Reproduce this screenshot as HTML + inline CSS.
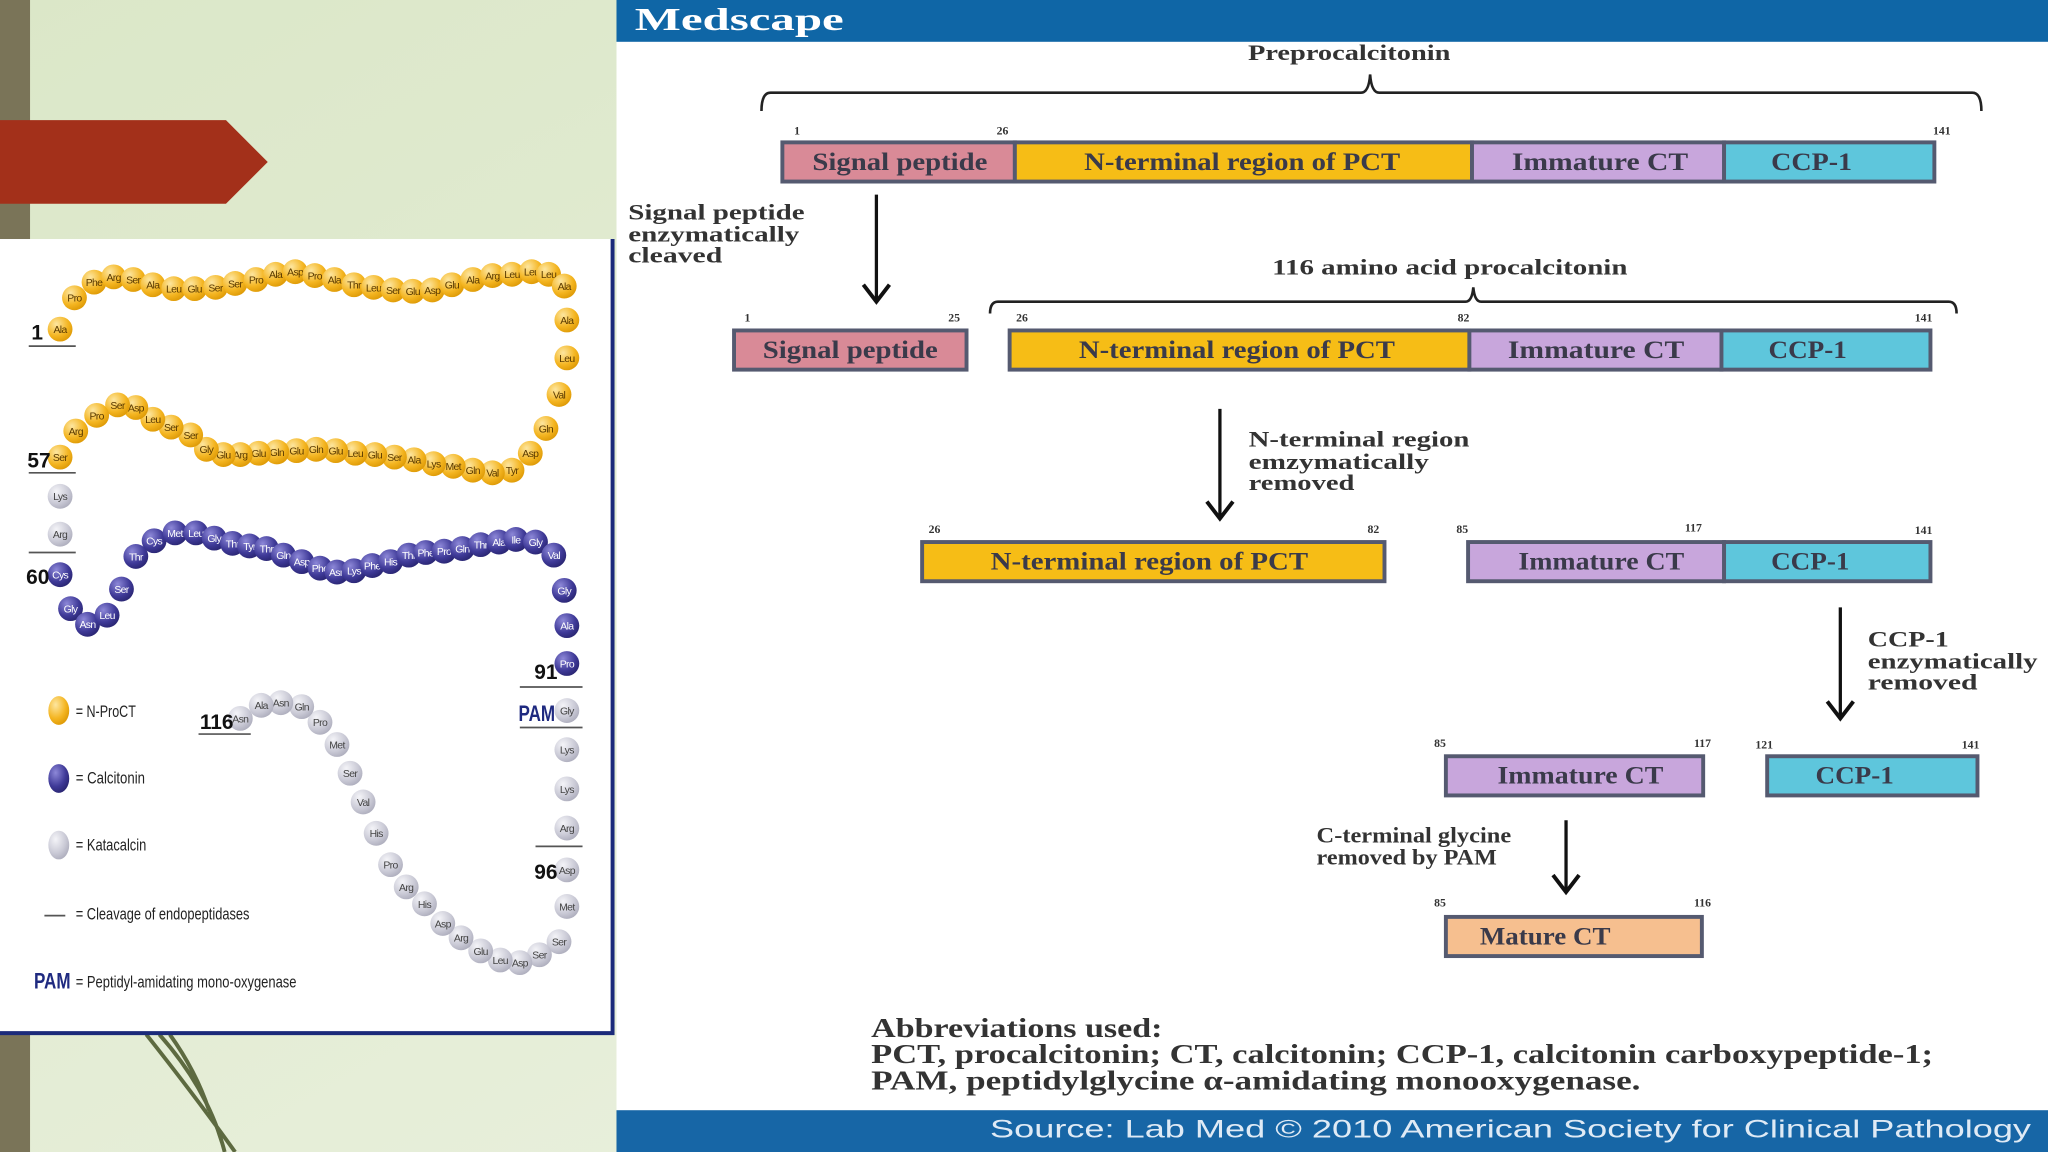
<!DOCTYPE html>
<html><head><meta charset="utf-8"><style>
html,body{margin:0;padding:0;width:2048px;height:1152px;overflow:hidden;background:#e6eed8}
svg{display:block}
.bx{font-family:"Liberation Serif",serif;font-weight:bold;font-size:19px;fill:#3a3a4a;text-anchor:middle}
.n{font-family:"Liberation Serif",serif;font-weight:bold;font-size:9px;fill:#333}
.lb{font-family:"Liberation Serif",serif;font-weight:bold;font-size:17px;fill:#333}
.ab{font-family:"Liberation Serif",serif;font-weight:bold;font-size:21px;fill:#333}
.b text{font-family:"Liberation Sans",sans-serif;font-size:8px;text-anchor:middle;letter-spacing:-0.5px}
.y circle{fill:url(#gy)} .y text{fill:#5a3a00}
.u circle{fill:url(#gu)} .u text{fill:#fff}
.g circle{fill:url(#gg)} .g text{fill:#444}
.lg{font-family:"Liberation Sans",sans-serif;font-size:13px;fill:#222}
.nm{font-family:"Liberation Sans",sans-serif;font-weight:bold;font-size:16px;fill:#111}
.ah{fill:none;stroke:#111;stroke-width:3}
</style></head><body>
<svg width="2048" height="1152" viewBox="0 0 1568 882" xmlns="http://www.w3.org/2000/svg">
<defs>
<linearGradient id="bg" x1="0" y1="0" x2="1" y2="1"><stop offset="0" stop-color="#dbe7c8"/><stop offset="1" stop-color="#eef3e4"/></linearGradient>
<radialGradient id="gy" cx="0.35" cy="0.3" r="0.8"><stop offset="0" stop-color="#fde6a0"/><stop offset="0.6" stop-color="#f4b521"/><stop offset="1" stop-color="#d99400"/></radialGradient>
<radialGradient id="gu" cx="0.35" cy="0.3" r="0.8"><stop offset="0" stop-color="#8d88d8"/><stop offset="0.6" stop-color="#3f3a98"/><stop offset="1" stop-color="#25216a"/></radialGradient>
<radialGradient id="gg" cx="0.35" cy="0.3" r="0.8"><stop offset="0" stop-color="#f4f4f8"/><stop offset="0.6" stop-color="#cacad6"/><stop offset="1" stop-color="#a8a8b8"/></radialGradient>
</defs>
<rect width="1568" height="882" fill="url(#bg)"/>
<rect x="0" y="0" width="23" height="882" fill="#7a7458"/>
<path d="M0 92 L173 92 L205 124 L173 156 L0 156 Z" fill="#a3301a"/>
<path d="M112 792 Q150 840 180 882 M122 792 Q160 835 172 882 M130 792 Q150 820 160 850" stroke="#5d6a40" stroke-width="3" fill="none"/>
<!-- left panel -->
<rect x="0" y="183" width="470" height="608" fill="#fff"/>
<path d="M469 183 V791 H0" fill="none" stroke="#1b2a7a" stroke-width="3"/>
<g class="b y">
<circle cx="46" cy="252" r="9.5"/><text x="46" y="255">Ala</text>
<circle cx="57" cy="228" r="9.5"/><text x="57" y="231">Pro</text>
<circle cx="72" cy="216" r="9.5"/><text x="72" y="219">Phe</text>
<circle cx="87" cy="212" r="9.5"/><text x="87" y="215">Arg</text>
<circle cx="102" cy="214" r="9.5"/><text x="102" y="217">Ser</text>
<circle cx="117" cy="218" r="9.5"/><text x="117" y="221">Ala</text>
<circle cx="133" cy="221" r="9.5"/><text x="133" y="224">Leu</text>
<circle cx="149" cy="221" r="9.5"/><text x="149" y="224">Glu</text>
<circle cx="165" cy="220" r="9.5"/><text x="165" y="223">Ser</text>
<circle cx="180" cy="217" r="9.5"/><text x="180" y="220">Ser</text>
<circle cx="196" cy="214" r="9.5"/><text x="196" y="217">Pro</text>
<circle cx="211" cy="210" r="9.5"/><text x="211" y="213">Ala</text>
<circle cx="226" cy="208" r="9.5"/><text x="226" y="211">Asp</text>
<circle cx="241" cy="211" r="9.5"/><text x="241" y="214">Pro</text>
<circle cx="256" cy="214" r="9.5"/><text x="256" y="217">Ala</text>
<circle cx="271" cy="218" r="9.5"/><text x="271" y="221">Thr</text>
<circle cx="286" cy="220" r="9.5"/><text x="286" y="223">Leu</text>
<circle cx="301" cy="222" r="9.5"/><text x="301" y="225">Ser</text>
<circle cx="316" cy="223" r="9.5"/><text x="316" y="226">Glu</text>
<circle cx="331" cy="222" r="9.5"/><text x="331" y="225">Asp</text>
<circle cx="346" cy="218" r="9.5"/><text x="346" y="221">Glu</text>
<circle cx="362" cy="214" r="9.5"/><text x="362" y="217">Ala</text>
<circle cx="377" cy="211" r="9.5"/><text x="377" y="214">Arg</text>
<circle cx="392" cy="210" r="9.5"/><text x="392" y="213">Leu</text>
<circle cx="407" cy="208" r="9.5"/><text x="407" y="211">Leu</text>
<circle cx="420" cy="210" r="9.5"/><text x="420" y="213">Leu</text>
<circle cx="432" cy="219" r="9.5"/><text x="432" y="222">Ala</text>
<circle cx="434" cy="245" r="9.5"/><text x="434" y="248">Ala</text>
<circle cx="434" cy="274" r="9.5"/><text x="434" y="277">Leu</text>
<circle cx="428" cy="302" r="9.5"/><text x="428" y="305">Val</text>
<circle cx="418" cy="328" r="9.5"/><text x="418" y="331">Gln</text>
<circle cx="406" cy="347" r="9.5"/><text x="406" y="350">Asp</text>
<circle cx="392" cy="360" r="9.5"/><text x="392" y="363">Tyr</text>
<circle cx="377" cy="362" r="9.5"/><text x="377" y="365">Val</text>
<circle cx="362" cy="360" r="9.5"/><text x="362" y="363">Gln</text>
<circle cx="347" cy="357" r="9.5"/><text x="347" y="360">Met</text>
<circle cx="332" cy="355" r="9.5"/><text x="332" y="358">Lys</text>
<circle cx="317" cy="352" r="9.5"/><text x="317" y="355">Ala</text>
<circle cx="302" cy="350" r="9.5"/><text x="302" y="353">Ser</text>
<circle cx="287" cy="348" r="9.5"/><text x="287" y="351">Glu</text>
<circle cx="272" cy="347" r="9.5"/><text x="272" y="350">Leu</text>
<circle cx="257" cy="345" r="9.5"/><text x="257" y="348">Glu</text>
<circle cx="242" cy="344" r="9.5"/><text x="242" y="347">Gln</text>
<circle cx="227" cy="345" r="9.5"/><text x="227" y="348">Glu</text>
<circle cx="212" cy="346" r="9.5"/><text x="212" y="349">Gln</text>
<circle cx="198" cy="347" r="9.5"/><text x="198" y="350">Glu</text>
<circle cx="184" cy="348" r="9.5"/><text x="184" y="351">Arg</text>
<circle cx="171" cy="348" r="9.5"/><text x="171" y="351">Glu</text>
<circle cx="158" cy="344" r="9.5"/><text x="158" y="347">Gly</text>
<circle cx="146" cy="333" r="9.5"/><text x="146" y="336">Ser</text>
<circle cx="131" cy="327" r="9.5"/><text x="131" y="330">Ser</text>
<circle cx="117" cy="321" r="9.5"/><text x="117" y="324">Leu</text>
<circle cx="104" cy="312" r="9.5"/><text x="104" y="315">Asp</text>
<circle cx="90" cy="310" r="9.5"/><text x="90" y="313">Ser</text>
<circle cx="74" cy="318" r="9.5"/><text x="74" y="321">Pro</text>
<circle cx="58" cy="330" r="9.5"/><text x="58" y="333">Arg</text>
<circle cx="46" cy="350" r="9.5"/><text x="46" y="353">Ser</text>
</g>
<g class="b g">
<circle cx="46" cy="380" r="9.5"/><text x="46" y="383">Lys</text>
<circle cx="46" cy="409" r="9.5"/><text x="46" y="412">Arg</text>
</g>
<g class="b u">
<circle cx="46" cy="440" r="9.5"/><text x="46" y="443">Cys</text>
<circle cx="54" cy="466" r="9.5"/><text x="54" y="469">Gly</text>
<circle cx="67" cy="478" r="9.5"/><text x="67" y="481">Asn</text>
<circle cx="82" cy="471" r="9.5"/><text x="82" y="474">Leu</text>
<circle cx="93" cy="451" r="9.5"/><text x="93" y="454">Ser</text>
<circle cx="104" cy="426" r="9.5"/><text x="104" y="429">Thr</text>
<circle cx="118" cy="414" r="9.5"/><text x="118" y="417">Cys</text>
<circle cx="134" cy="408" r="9.5"/><text x="134" y="411">Met</text>
<circle cx="150" cy="408" r="9.5"/><text x="150" y="411">Leu</text>
<circle cx="164" cy="412" r="9.5"/><text x="164" y="415">Gly</text>
<circle cx="178" cy="416" r="9.5"/><text x="178" y="419">Thr</text>
<circle cx="191" cy="418" r="9.5"/><text x="191" y="421">Tyr</text>
<circle cx="204" cy="420" r="9.5"/><text x="204" y="423">Thr</text>
<circle cx="217" cy="425" r="9.5"/><text x="217" y="428">Gln</text>
<circle cx="231" cy="430" r="9.5"/><text x="231" y="433">Asp</text>
<circle cx="245" cy="435" r="9.5"/><text x="245" y="438">Phe</text>
<circle cx="258" cy="438" r="9.5"/><text x="258" y="441">Asn</text>
<circle cx="271" cy="437" r="9.5"/><text x="271" y="440">Lys</text>
<circle cx="285" cy="433" r="9.5"/><text x="285" y="436">Phe</text>
<circle cx="299" cy="430" r="9.5"/><text x="299" y="433">His</text>
<circle cx="313" cy="425" r="9.5"/><text x="313" y="428">Thr</text>
<circle cx="326" cy="423" r="9.5"/><text x="326" y="426">Phe</text>
<circle cx="340" cy="422" r="9.5"/><text x="340" y="425">Pro</text>
<circle cx="354" cy="420" r="9.5"/><text x="354" y="423">Gln</text>
<circle cx="368" cy="417" r="9.5"/><text x="368" y="420">Thr</text>
<circle cx="382" cy="415" r="9.5"/><text x="382" y="418">Ala</text>
<circle cx="395" cy="413" r="9.5"/><text x="395" y="416">Ile</text>
<circle cx="410" cy="415" r="9.5"/><text x="410" y="418">Gly</text>
<circle cx="424" cy="425" r="9.5"/><text x="424" y="428">Val</text>
<circle cx="432" cy="452" r="9.5"/><text x="432" y="455">Gly</text>
<circle cx="434" cy="479" r="9.5"/><text x="434" y="482">Ala</text>
<circle cx="434" cy="508" r="9.5"/><text x="434" y="511">Pro</text>
</g>
<g class="b g">
<circle cx="434" cy="544" r="9.5"/><text x="434" y="547">Gly</text>
<circle cx="434" cy="574" r="9.5"/><text x="434" y="577">Lys</text>
<circle cx="434" cy="604" r="9.5"/><text x="434" y="607">Lys</text>
<circle cx="434" cy="634" r="9.5"/><text x="434" y="637">Arg</text>
<circle cx="434" cy="666" r="9.5"/><text x="434" y="669">Asp</text>
<circle cx="434" cy="694" r="9.5"/><text x="434" y="697">Met</text>
<circle cx="428" cy="721" r="9.5"/><text x="428" y="724">Ser</text>
<circle cx="413" cy="731" r="9.5"/><text x="413" y="734">Ser</text>
<circle cx="398" cy="737" r="9.5"/><text x="398" y="740">Asp</text>
<circle cx="383" cy="735" r="9.5"/><text x="383" y="738">Leu</text>
<circle cx="368" cy="728" r="9.5"/><text x="368" y="731">Glu</text>
<circle cx="353" cy="718" r="9.5"/><text x="353" y="721">Arg</text>
<circle cx="339" cy="707" r="9.5"/><text x="339" y="710">Asp</text>
<circle cx="325" cy="692" r="9.5"/><text x="325" y="695">His</text>
<circle cx="311" cy="679" r="9.5"/><text x="311" y="682">Arg</text>
<circle cx="299" cy="662" r="9.5"/><text x="299" y="665">Pro</text>
<circle cx="288" cy="638" r="9.5"/><text x="288" y="641">His</text>
<circle cx="278" cy="614" r="9.5"/><text x="278" y="617">Val</text>
<circle cx="268" cy="592" r="9.5"/><text x="268" y="595">Ser</text>
<circle cx="258" cy="570" r="9.5"/><text x="258" y="573">Met</text>
<circle cx="245" cy="553" r="9.5"/><text x="245" y="556">Pro</text>
<circle cx="231" cy="541" r="9.5"/><text x="231" y="544">Gln</text>
<circle cx="215" cy="538" r="9.5"/><text x="215" y="541">Asn</text>
<circle cx="200" cy="540" r="9.5"/><text x="200" y="543">Ala</text>
<circle cx="184" cy="550" r="9.5"/><text x="184" y="553">Asn</text>
</g>
<g stroke="#555" stroke-width="1.3">
<line x1="22" y1="265" x2="58" y2="265"/><line x1="22" y1="362" x2="58" y2="362"/><line x1="22" y1="423" x2="58" y2="423"/>
<line x1="398" y1="526" x2="446" y2="526"/><line x1="398" y1="557" x2="446" y2="557"/><line x1="410" y1="648" x2="446" y2="648"/>
<line x1="152" y1="562" x2="192" y2="562"/><line x1="34" y1="701" x2="50" y2="701"/>
</g>
<text class="nm" x="24" y="260">1</text><text class="nm" x="21" y="358">57</text><text class="nm" x="20" y="447">60</text>
<text class="nm" x="409" y="520">91</text><text class="nm" x="409" y="673">96</text><text class="nm" x="153" y="558">116</text>
<text x="397" y="552" font-family="Liberation Sans,sans-serif" font-weight="bold" font-size="17" fill="#1f2a80" textLength="28" lengthAdjust="spacingAndGlyphs">PAM</text>
<ellipse cx="45" cy="544" rx="8" ry="11" fill="url(#gy)"/><ellipse cx="45" cy="596" rx="8" ry="11" fill="url(#gu)"/><ellipse cx="45" cy="647" rx="8" ry="11" fill="url(#gg)"/>
<text class="lg" x="58" y="549" textLength="46" lengthAdjust="spacingAndGlyphs">= N-ProCT</text>
<text class="lg" x="58" y="600" textLength="53" lengthAdjust="spacingAndGlyphs">= Calcitonin</text>
<text class="lg" x="58" y="651" textLength="54" lengthAdjust="spacingAndGlyphs">= Katacalcin</text>
<text class="lg" x="58" y="704" textLength="133" lengthAdjust="spacingAndGlyphs">= Cleavage of endopeptidases</text>
<text x="26" y="757" font-family="Liberation Sans,sans-serif" font-weight="bold" font-size="17" fill="#1f2a80" textLength="28" lengthAdjust="spacingAndGlyphs">PAM</text>
<text class="lg" x="58" y="756" textLength="169" lengthAdjust="spacingAndGlyphs">= Peptidyl-amidating mono-oxygenase</text>
<!-- right panel -->
<rect x="472" y="0" width="1096" height="882" fill="#fff"/>
<rect x="472" y="0" width="1096" height="32" fill="#0f66a6"/>
<text x="486" y="23" font-family="Liberation Serif,serif" font-weight="bold" font-size="24" fill="#fff" textLength="160" lengthAdjust="spacingAndGlyphs">Medscape</text>
<rect x="472" y="850" width="1096" height="32" fill="#1766a6"/>
<text x="758" y="871" font-family="Liberation Sans,sans-serif" font-size="19" fill="#dfeaf5" textLength="797" lengthAdjust="spacingAndGlyphs">Source: Lab Med © 2010 American Society for Clinical Pathology</text>

<text class="lb" x="1033" y="46" text-anchor="middle" textLength="155" lengthAdjust="spacingAndGlyphs">Preprocalcitonin</text>
<path d="M583 85 Q583 71 590 71 H1042 Q1048 71 1049 57 Q1050 71 1056 71 H1510 Q1517 71 1517 85" fill="none" stroke="#222" stroke-width="2"/>
<text class="n" x="608" y="103">1</text><text class="n" x="763" y="103">26</text><text class="n" x="1480" y="103">141</text>
<g stroke="#555a70" stroke-width="3">
<rect x="599" y="109" width="178" height="30" fill="#d98a97"/><rect x="777" y="109" width="350" height="30" fill="#f6bd16"/><rect x="1127" y="109" width="193" height="30" fill="#c8a6dc"/><rect x="1320" y="109" width="161" height="30" fill="#5ec6dc"/>
<rect x="562" y="253" width="178" height="30" fill="#d98a97"/><rect x="773" y="253" width="352" height="30" fill="#f6bd16"/><rect x="1125" y="253" width="193" height="30" fill="#c8a6dc"/><rect x="1318" y="253" width="160" height="30" fill="#5ec6dc"/>
<rect x="706" y="415" width="354" height="30" fill="#f6bd16"/><rect x="1124" y="415" width="196" height="30" fill="#c8a6dc"/><rect x="1320" y="415" width="158" height="30" fill="#5ec6dc"/>
<rect x="1107" y="579" width="197" height="30" fill="#c8a6dc"/><rect x="1353" y="579" width="161" height="30" fill="#5ec6dc"/>
<rect x="1107" y="702" width="196" height="30" fill="#f6bf8f"/>
</g>
<text class="bx" x="689" y="130" textLength="134" lengthAdjust="spacingAndGlyphs">Signal peptide</text><text class="bx" x="951" y="130" textLength="242" lengthAdjust="spacingAndGlyphs">N-terminal region of PCT</text><text class="bx" x="1225" y="130" textLength="135" lengthAdjust="spacingAndGlyphs">Immature CT</text><text class="bx" x="1387" y="130" textLength="62" lengthAdjust="spacingAndGlyphs">CCP-1</text>
<text class="bx" x="651" y="274" textLength="134" lengthAdjust="spacingAndGlyphs">Signal peptide</text><text class="bx" x="947" y="274" textLength="242" lengthAdjust="spacingAndGlyphs">N-terminal region of PCT</text><text class="bx" x="1222" y="274" textLength="135" lengthAdjust="spacingAndGlyphs">Immature CT</text><text class="bx" x="1384" y="274" textLength="60" lengthAdjust="spacingAndGlyphs">CCP-1</text>
<text class="bx" x="880" y="436" textLength="243" lengthAdjust="spacingAndGlyphs">N-terminal region of PCT</text><text class="bx" x="1226" y="436" textLength="127" lengthAdjust="spacingAndGlyphs">Immature CT</text><text class="bx" x="1386" y="436" textLength="60" lengthAdjust="spacingAndGlyphs">CCP-1</text>
<text class="bx" x="1210" y="600" textLength="127" lengthAdjust="spacingAndGlyphs">Immature CT</text><text class="bx" x="1420" y="600" textLength="60" lengthAdjust="spacingAndGlyphs">CCP-1</text>
<text class="bx" x="1183" y="723" textLength="100" lengthAdjust="spacingAndGlyphs">Mature CT</text>

<path d="M671 149 V230" stroke="#111" stroke-width="2.5"/><path class="ah" d="M661 218 L671 231 L681 218"/>
<text class="lb" x="481" y="168" textLength="135" lengthAdjust="spacingAndGlyphs">Signal peptide</text><text class="lb" x="481" y="185" textLength="131" lengthAdjust="spacingAndGlyphs">enzymatically</text><text class="lb" x="481" y="201" textLength="72" lengthAdjust="spacingAndGlyphs">cleaved</text>
<text class="lb" x="1110" y="210" text-anchor="middle" textLength="272" lengthAdjust="spacingAndGlyphs">116 amino acid procalcitonin</text>
<path d="M758 240 Q758 231 764 231 H1122 Q1127 231 1128 220 Q1129 231 1134 231 H1492 Q1498 231 1498 240" fill="none" stroke="#222" stroke-width="2"/>
<text class="n" x="570" y="246">1</text><text class="n" x="726" y="246">25</text><text class="n" x="778" y="246">26</text><text class="n" x="1116" y="246">82</text><text class="n" x="1466" y="246">141</text>
<path d="M934 313 V396" stroke="#111" stroke-width="2.5"/><path class="ah" d="M924 384 L934 397 L944 384"/>
<text class="lb" x="956" y="342" textLength="169" lengthAdjust="spacingAndGlyphs">N-terminal region</text><text class="lb" x="956" y="359" textLength="138" lengthAdjust="spacingAndGlyphs">emzymatically</text><text class="lb" x="956" y="375" textLength="81" lengthAdjust="spacingAndGlyphs">removed</text>
<text class="n" x="711" y="408">26</text><text class="n" x="1047" y="408">82</text><text class="n" x="1115" y="408">85</text><text class="n" x="1290" y="407">117</text><text class="n" x="1466" y="409">141</text>
<path d="M1409 465 V549" stroke="#111" stroke-width="2.5"/><path class="ah" d="M1399 537 L1409 550 L1419 537"/>
<text class="lb" x="1430" y="495" textLength="62" lengthAdjust="spacingAndGlyphs">CCP-1</text><text class="lb" x="1430" y="512" textLength="130" lengthAdjust="spacingAndGlyphs">enzymatically</text><text class="lb" x="1430" y="528" textLength="84" lengthAdjust="spacingAndGlyphs">removed</text>
<text class="n" x="1098" y="572">85</text><text class="n" x="1297" y="572">117</text><text class="n" x="1344" y="573">121</text><text class="n" x="1502" y="573">141</text>
<path d="M1199 628 V682" stroke="#111" stroke-width="2.5"/><path class="ah" d="M1189 670 L1199 683 L1209 670"/>
<text class="lb" x="1008" y="645" textLength="149" lengthAdjust="spacingAndGlyphs">C-terminal glycine</text><text class="lb" x="1008" y="662" textLength="138" lengthAdjust="spacingAndGlyphs">removed by PAM</text>
<text class="n" x="1098" y="694">85</text><text class="n" x="1297" y="694">116</text>
<text class="ab" x="667" y="794" textLength="223" lengthAdjust="spacingAndGlyphs">Abbreviations used:</text>
<text class="ab" x="667" y="814" textLength="813" lengthAdjust="spacingAndGlyphs">PCT, procalcitonin; CT, calcitonin; CCP-1, calcitonin carboxypeptide-1;</text>
<text class="ab" x="667" y="834" textLength="589" lengthAdjust="spacingAndGlyphs">PAM, peptidylglycine α-amidating monooxygenase.</text>
</svg>
</body></html>
